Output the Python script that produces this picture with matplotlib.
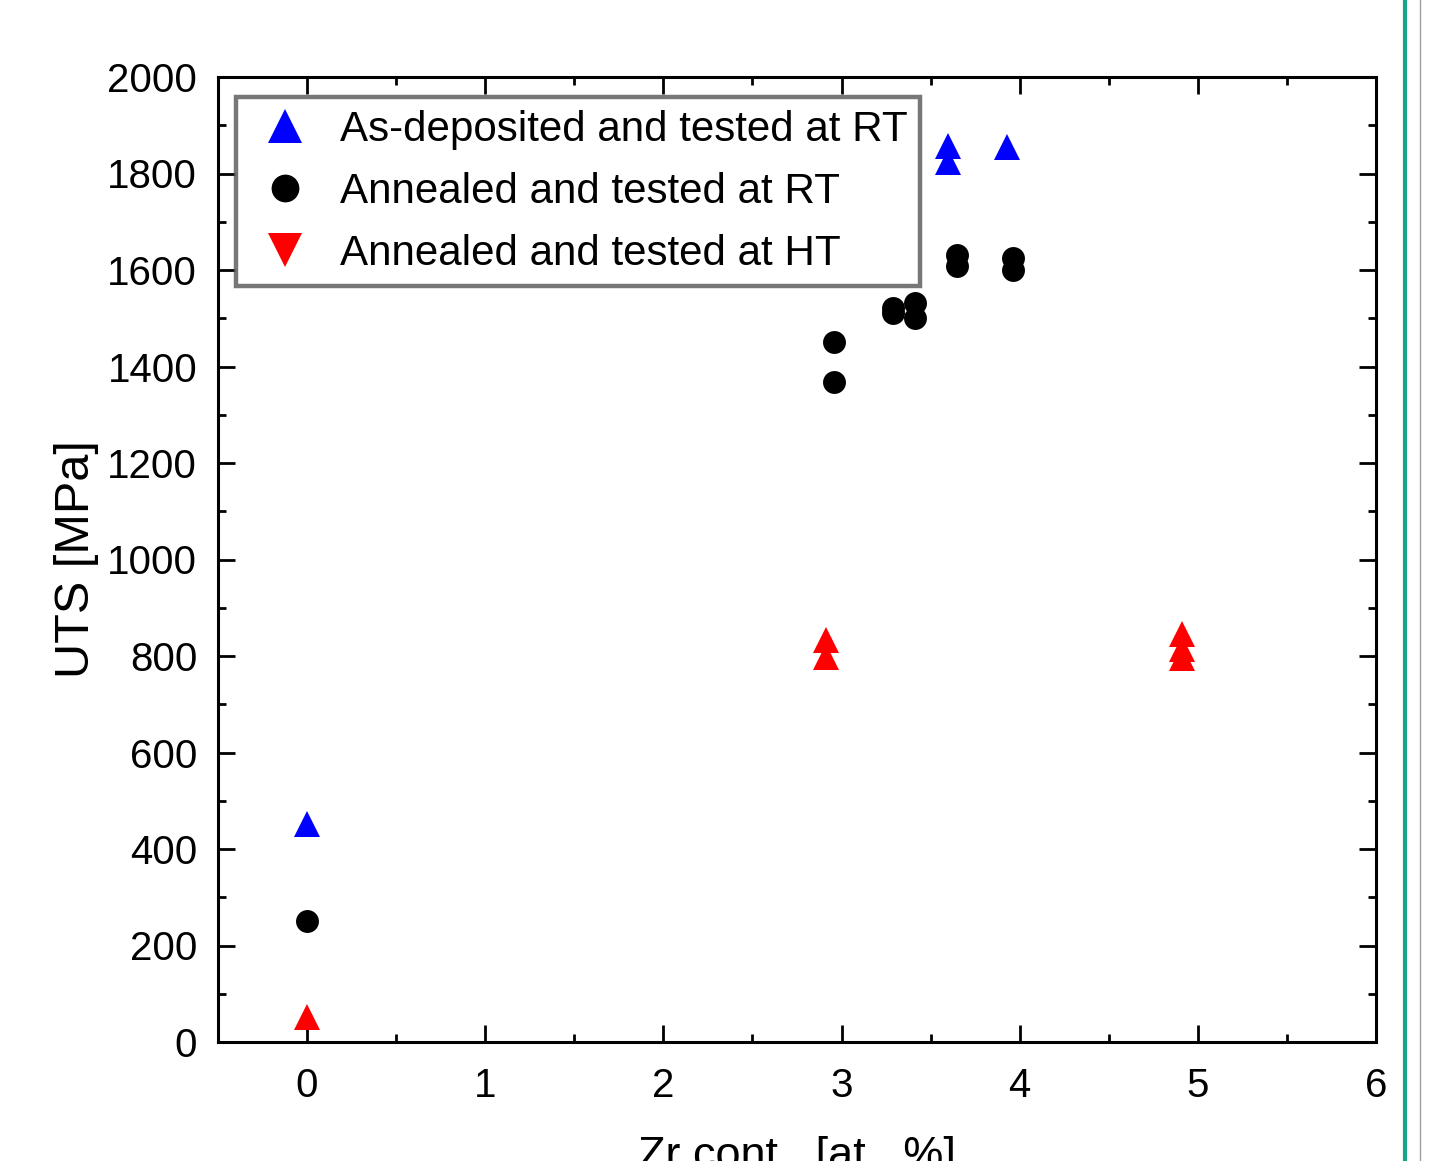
import matplotlib
matplotlib.use("Agg")
import matplotlib.pyplot as plt
from matplotlib.lines import Line2D
from matplotlib.ticker import MultipleLocator

plt.rcParams['font.family'] = ['Liberation Sans', 'DejaVu Sans']

# As-deposited and tested at RT
asdep_x = [0.0, 3.60, 3.60, 3.93]
asdep_y = [452, 1857, 1823, 1855]

# Annealed and tested at RT
ann_rt_x = [0.0, 2.96, 2.96, 3.29, 3.29, 3.41, 3.41, 3.65, 3.65, 3.96, 3.96]
ann_rt_y = [250, 1450, 1368, 1522, 1510, 1532, 1500, 1632, 1608, 1625, 1600]

# Annealed and tested at HT
ann_ht_x = [0.0, 2.91, 2.91, 4.91, 4.91, 4.91]
ann_ht_y = [52, 834, 797, 845, 814, 796]

labels = ['As-deposited and tested at RT',
          'Annealed and tested at RT',
          'Annealed and tested at HT']

fig = plt.figure(figsize=(14.3, 11.61), dpi=100)
ax = fig.add_axes([218 / 1430, 1 - 1042 / 1161, 1158 / 1430, 965 / 1161])

ax.plot(asdep_x, asdep_y, '^', color='#0000ff', markersize=19, markeredgewidth=0, linestyle='none')
ax.plot(ann_rt_x, ann_rt_y, 'o', color='black', markersize=16.5, markeredgewidth=0, linestyle='none')
ax.plot(ann_ht_x, ann_ht_y, '^', color='#ff0000', markersize=19, markeredgewidth=0, linestyle='none')

ax.set_xlim(-0.5, 6)
ax.set_ylim(0, 2000)
ax.xaxis.set_major_locator(MultipleLocator(1))
ax.xaxis.set_minor_locator(MultipleLocator(0.5))
ax.yaxis.set_major_locator(MultipleLocator(200))
ax.yaxis.set_minor_locator(MultipleLocator(100))

ax.tick_params(which='both', direction='in', top=True, right=True, width=2, labelsize=29)
ax.tick_params(which='major', length=12)
ax.tick_params(which='minor', length=6)
ax.tick_params(axis='y', which='major', pad=15)
ax.tick_params(axis='x', which='major', pad=18)
for s in ax.spines.values():
    s.set_linewidth(2.2)

ax.set_ylabel('UTS [MPa]', fontsize=35, labelpad=6)
ax.set_xlabel('Zr cont.  [at.  %]', fontsize=32.5, labelpad=22)

handles = [
    Line2D([], [], marker='^', color='#0000ff', markersize=24, markeredgewidth=0, linestyle='none'),
    Line2D([], [], marker='o', color='black', markersize=20, markeredgewidth=0, linestyle='none'),
    Line2D([], [], marker='v', color='#ff0000', markersize=24, markeredgewidth=0, linestyle='none'),
]
leg = ax.legend(handles, labels, loc='upper left', bbox_to_anchor=(0.0155, 0.979),
                fontsize=30.3, frameon=True, fancybox=False, borderpad=0.3,
                labelspacing=0.52, handletextpad=0.42, handlelength=1.75, borderaxespad=0)
leg.get_frame().set_edgecolor('#555555')
leg.get_frame().set_linewidth(3.2)

# page edge lines at the right
fig.add_artist(Line2D([1405 / 1430, 1405 / 1430], [0, 1], color='#17a589', linewidth=3))
fig.add_artist(Line2D([1420 / 1430, 1420 / 1430], [0, 1], color='#a0a0a0', linewidth=1))

fig.savefig('out.png', dpi=100)
